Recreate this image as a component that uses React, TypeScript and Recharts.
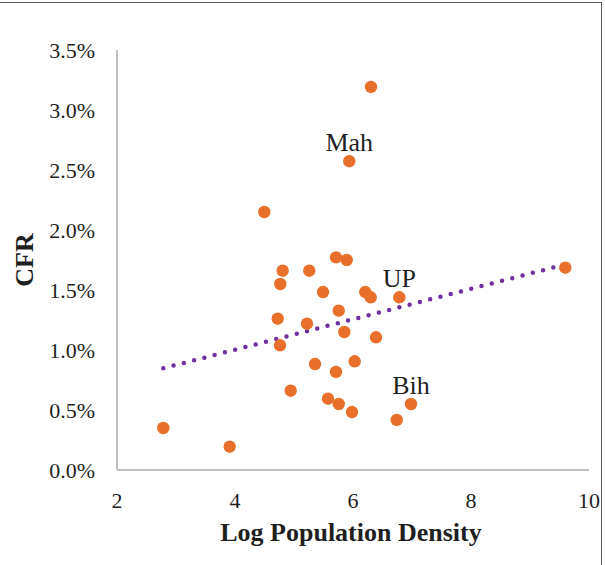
import React from 'react';
import { ScatterChart, Scatter, XAxis, YAxis, ReferenceDot } from 'recharts';

// log population density (x) and case fatality rate in % (y), one entry per state
const logDensity = [
  2.785, 3.91, 4.497, 4.808, 4.768, 5.259, 5.492, 5.712, 5.893, 4.724,
  5.22, 5.758, 5.853, 4.763, 6.39, 6.208, 6.3, 6.785, 5.356, 5.712,
  6.029, 4.944, 5.576, 5.758, 5.983, 6.741, 6.983, 9.598, 6.305, 5.937,
];
const cfrPct = [
  0.35, 0.194, 2.15, 1.661, 1.55, 1.661, 1.483, 1.772, 1.75, 1.261,
  1.219, 1.328, 1.15, 1.039, 1.106, 1.483, 1.439, 1.439, 0.883, 0.817,
  0.906, 0.661, 0.594, 0.55, 0.483, 0.417, 0.55, 1.686, 3.192, 2.573,
];
// named states: index into the arrays above
const stateLabels = [
  { name: 'Mah', idx: 29 },
  { name: 'UP', idx: 17 },
  { name: 'Bih', idx: 26 },
];
// linear trendline ends
const trendX = [2.785, 9.598];
const trendY = [0.848, 1.713];

const xTicks = [2, 4, 6, 8, 10];
const yTicks = [0, 0.5, 1, 1.5, 2, 2.5, 3, 3.5];

const points = logDensity.map((x, i) => ({ x, y: cfrPct[i] }));
const trend = trendX.map((x, i) => ({ x, y: trendY[i] }));

const FONT = '"Liberation Serif", "Times New Roman", serif';
const TEXT = '#1f1f1f';
const ORANGE = '#E8702A';
const PURPLE = '#7030A0';
const AXIS = '#BFBFBF';

const Dot = (props: any) => <circle cx={props.cx} cy={props.cy} r={6.2} fill={ORANGE} />;
const NoDot = () => <g />;

const XTick = (props: any) => (
  <text x={props.x} y={props.y + 16} textAnchor="middle" fontFamily={FONT} fontSize={22} fill={TEXT}>
    {props.payload.value}
  </text>
);

const YTick = (props: any) => (
  <text x={props.x} y={props.y + 8} textAnchor="end" fontFamily={FONT} fontSize={22} fill={TEXT}>
    {`${Number(props.payload.value).toFixed(1)}%`}
  </text>
);

const XTitle = () => (
  <text x={351} y={541} textAnchor="middle" fontFamily={FONT} fontSize={26} fontWeight="bold" fill={TEXT}>
    Log Population Density
  </text>
);

const YTitle = () => (
  <text
    x={24}
    y={260}
    transform="rotate(-90 24 260)"
    textAnchor="middle"
    dominantBaseline="central"
    fontFamily={FONT}
    fontSize={26}
    fontWeight="bold"
    fill={TEXT}
  >
    CFR
  </text>
);

const App: React.FC = () => {
  return (
    <div style={{ position: 'absolute', left: 0, top: 0, width: 605, height: 565, background: '#fff', overflow: 'hidden' }}>
      {/* outer frame, only top and right edges visible */}
      <div
        style={{
          position: 'absolute',
          left: -5,
          top: 2,
          width: 607,
          height: 600,
          border: '1px solid #595959',
          boxSizing: 'border-box',
        }}
      />
      <ScatterChart
        width={605}
        height={565}
        margin={{ top: 50, right: 16, bottom: 0, left: 0 }}
        style={{ position: 'absolute', left: 0, top: 0 }}
      >
        <XAxis
          type="number"
          dataKey="x"
          domain={[2, 10]}
          ticks={xTicks}
          height={95}
          tickLine={false}
          tickSize={0}
          tickMargin={22}
          axisLine={{ stroke: AXIS, strokeWidth: 2 }}
          tick={<XTick />}
          label={<XTitle />}
        />
        <YAxis
          type="number"
          dataKey="y"
          domain={[0, 3.5]}
          ticks={yTicks}
          width={117}
          tickLine={false}
          tickSize={0}
          tickMargin={22}
          axisLine={{ stroke: AXIS, strokeWidth: 2 }}
          tick={<YTick />}
          label={<YTitle />}
        />
        <Scatter
          data={trend}
          shape={<NoDot />}
          line={{ stroke: PURPLE, strokeWidth: 4.5, strokeDasharray: '0 10.6', strokeLinecap: 'round' }}
          isAnimationActive={false}
        />
        <Scatter data={points} shape={<Dot />} isAnimationActive={false} />
        {stateLabels.map((s) => (
          <ReferenceDot
            key={s.name}
            x={logDensity[s.idx]}
            y={cfrPct[s.idx]}
            r={0}
            stroke="none"
            label={{
              value: s.name,
              position: 'top',
              offset: 10,
              fontFamily: FONT,
              fontSize: 26,
              fill: TEXT,
            }}
          />
        ))}
      </ScatterChart>
    </div>
  );
};

export default App;
